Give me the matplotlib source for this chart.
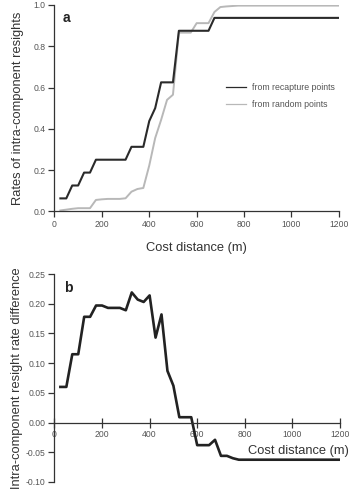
import matplotlib
matplotlib.use("Agg")
import matplotlib.pyplot as plt
from matplotlib.lines import Line2D

plt.rcParams['font.family'] = ['Liberation Sans', 'DejaVu Sans']

# cost distance grid (m)
dist = [25, 50, 75, 100, 125, 150, 175, 200, 225, 250, 275, 300, 325, 350, 375,
        400, 425, 450, 475, 500, 525, 550, 575, 600, 625, 650, 675, 700, 725,
        750, 775, 800, 1200]

# panel a: rates of intra-component resights
recapture = [0.0625, 0.0625, 0.125, 0.125, 0.1875, 0.1875, 0.25, 0.25, 0.25, 0.25,
             0.25, 0.25, 0.3125, 0.3125, 0.3125, 0.4375, 0.5, 0.625, 0.625, 0.625,
             0.875, 0.875, 0.875, 0.875, 0.875, 0.875, 0.9375, 0.9375, 0.9375,
             0.9375, 0.9375, 0.9375, 0.9375]
random_pts = [0.004, 0.008, 0.012, 0.015, 0.015, 0.015, 0.055, 0.058, 0.06, 0.06,
              0.06, 0.063, 0.095, 0.108, 0.113, 0.222, 0.355, 0.443, 0.54, 0.565,
              0.866, 0.866, 0.866, 0.912, 0.912, 0.912, 0.966, 0.99, 0.993,
              0.995, 0.997, 0.997, 0.997]

# panel b: resight rate difference
difference = [0.06, 0.06, 0.115, 0.115, 0.178, 0.178, 0.197, 0.197, 0.193, 0.193,
              0.193, 0.189, 0.219, 0.207, 0.203, 0.214, 0.143, 0.182, 0.087, 0.062,
              0.009, 0.009, 0.009, -0.038, -0.038, -0.038, -0.029, -0.056, -0.056,
              -0.06, -0.0625, -0.0625, -0.0625]

xticks = [0, 200, 400, 600, 800, 1000, 1200]
ink = '#333333'
tick_col = '#555555'

fig = plt.figure(figsize=(3.49, 4.94), dpi=100)

# ---- panel a ----
ax1 = fig.add_axes([0.156, 0.5723, 0.815, 0.4176])
ax1.plot(dist, random_pts, color='#b8b8b8', lw=1.4)
ax1.plot(dist, recapture, color='#2a2a2a', lw=1.5)
ax1.set_xlim(0, 1200)
ax1.set_ylim(0, 1.0)
ax1.set_xticks(xticks)
ax1.set_yticks([0.0, 0.2, 0.4, 0.6, 0.8, 1.0])
ax1.set_yticklabels(['0.0', '0.2', '0.4', '0.6', '0.8', '1.0'])
for s in ['top', 'right']:
    ax1.spines[s].set_visible(False)
for s in ['left', 'bottom']:
    ax1.spines[s].set_color(ink)
    ax1.spines[s].set_linewidth(0.9)
ax1.tick_params(direction='out', length=4, width=0.9, color=ink,
                labelsize=6.2, labelcolor=tick_col, pad=2.5)
ax1.set_xlabel('Cost distance (m)', fontsize=9.3, color=ink, labelpad=9)
ax1.set_ylabel('Rates of intra-component resights', fontsize=9.3, color=ink, labelpad=7)
ax1.text(0.03, 0.97, 'a', transform=ax1.transAxes, fontsize=10, fontweight='bold',
         color='#222222', va='top')
handles = [Line2D([], [], color='#2a2a2a', lw=0.9),
           Line2D([], [], color='#b8b8b8', lw=0.9)]
ax1.legend(handles, ['from recapture points', 'from random points'],
           loc='center left', bbox_to_anchor=(0.603, 0.56), frameon=False,
           fontsize=6.3, labelcolor=tick_col, borderpad=0, borderaxespad=0,
           handlelength=2.3, handletextpad=0.7, labelspacing=0.95)

# ---- panel b ----
ax2 = fig.add_axes([0.156, 0.0243, 0.818, 0.421])
ax2.plot(dist, difference, color='#222222', lw=1.9)
ax2.set_xlim(0, 1200)
ax2.set_ylim(-0.10, 0.25)
ax2.set_xticks(xticks)
ax2.set_yticks([-0.10, -0.05, 0.0, 0.05, 0.10, 0.15, 0.20, 0.25])
ax2.set_yticklabels(['-0.10', '-0.05', '0.00', '0.05', '0.10', '0.15', '0.20', '0.25'])
for s in ['top', 'right']:
    ax2.spines[s].set_visible(False)
ax2.spines['bottom'].set_position(('data', 0))
for s in ['left', 'bottom']:
    ax2.spines[s].set_color(ink)
    ax2.spines[s].set_linewidth(0.9)
ax2.tick_params(axis='y', direction='out', length=4, width=0.9, color=ink,
                labelsize=6.2, labelcolor=tick_col, pad=2.5)
ax2.tick_params(axis='x', direction='inout', length=7, width=0.9, color=ink,
                labelsize=6.2, labelcolor=tick_col, pad=2)
ax2.set_ylabel('Intra-component resight rate difference', fontsize=9.3, color=ink,
               labelpad=2)
ax2.text(1.03, 0.15, 'Cost distance (m)', transform=ax2.transAxes, fontsize=9.3,
         color=ink, ha='right', va='center')
ax2.text(0.035, 0.965, 'b', transform=ax2.transAxes, fontsize=10, fontweight='bold',
         color='#222222', va='top')

fig.savefig('out.png', dpi=100)
